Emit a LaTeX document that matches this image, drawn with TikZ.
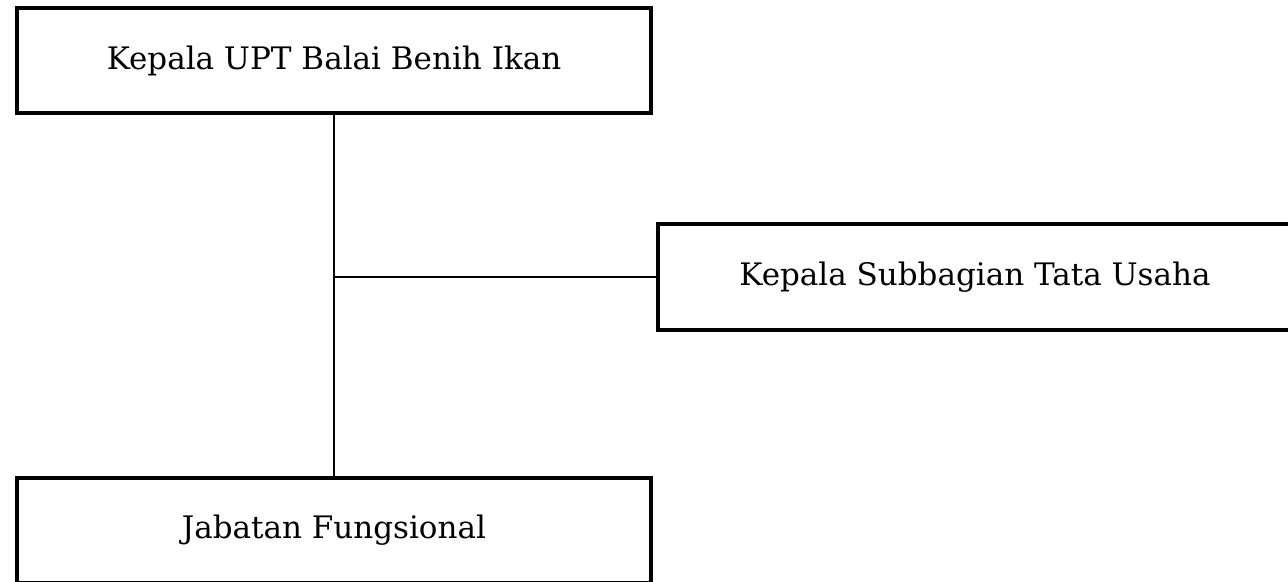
\documentclass[tikz,border=0pt]{standalone}
\usepackage{fontspec}
\setmainfont{DejaVu Serif}
\begin{document}
\begin{tikzpicture}[x=0.5pt,y=-0.5pt,
  unit/.style={draw=black, line width=2pt, minimum width=317pt, minimum height=52.5pt,
    inner sep=0pt, font=\fontsize{15.5}{18}\selectfont},
  link/.style={draw=black, line width=0.8pt}]
\useasboundingbox (0,0) rectangle (1288,582);
\node[unit] (head) at (334,60.5) {Kepala UPT Balai Benih Ikan};
\node[unit] (tu) at (975,277) {Kepala Subbagian Tata Usaha};
\node[unit] (jf) at (334,530.5) {Jabatan Fungsional};
% trunk line from the head down to the functional staff
\draw[link] (head.south) -- (jf.north);
% branch to the administrative subdivision
\coordinate (branch) at (head.south |- tu.west);
\draw[link] (branch) -- (tu.west);
\end{tikzpicture}
\end{document}
